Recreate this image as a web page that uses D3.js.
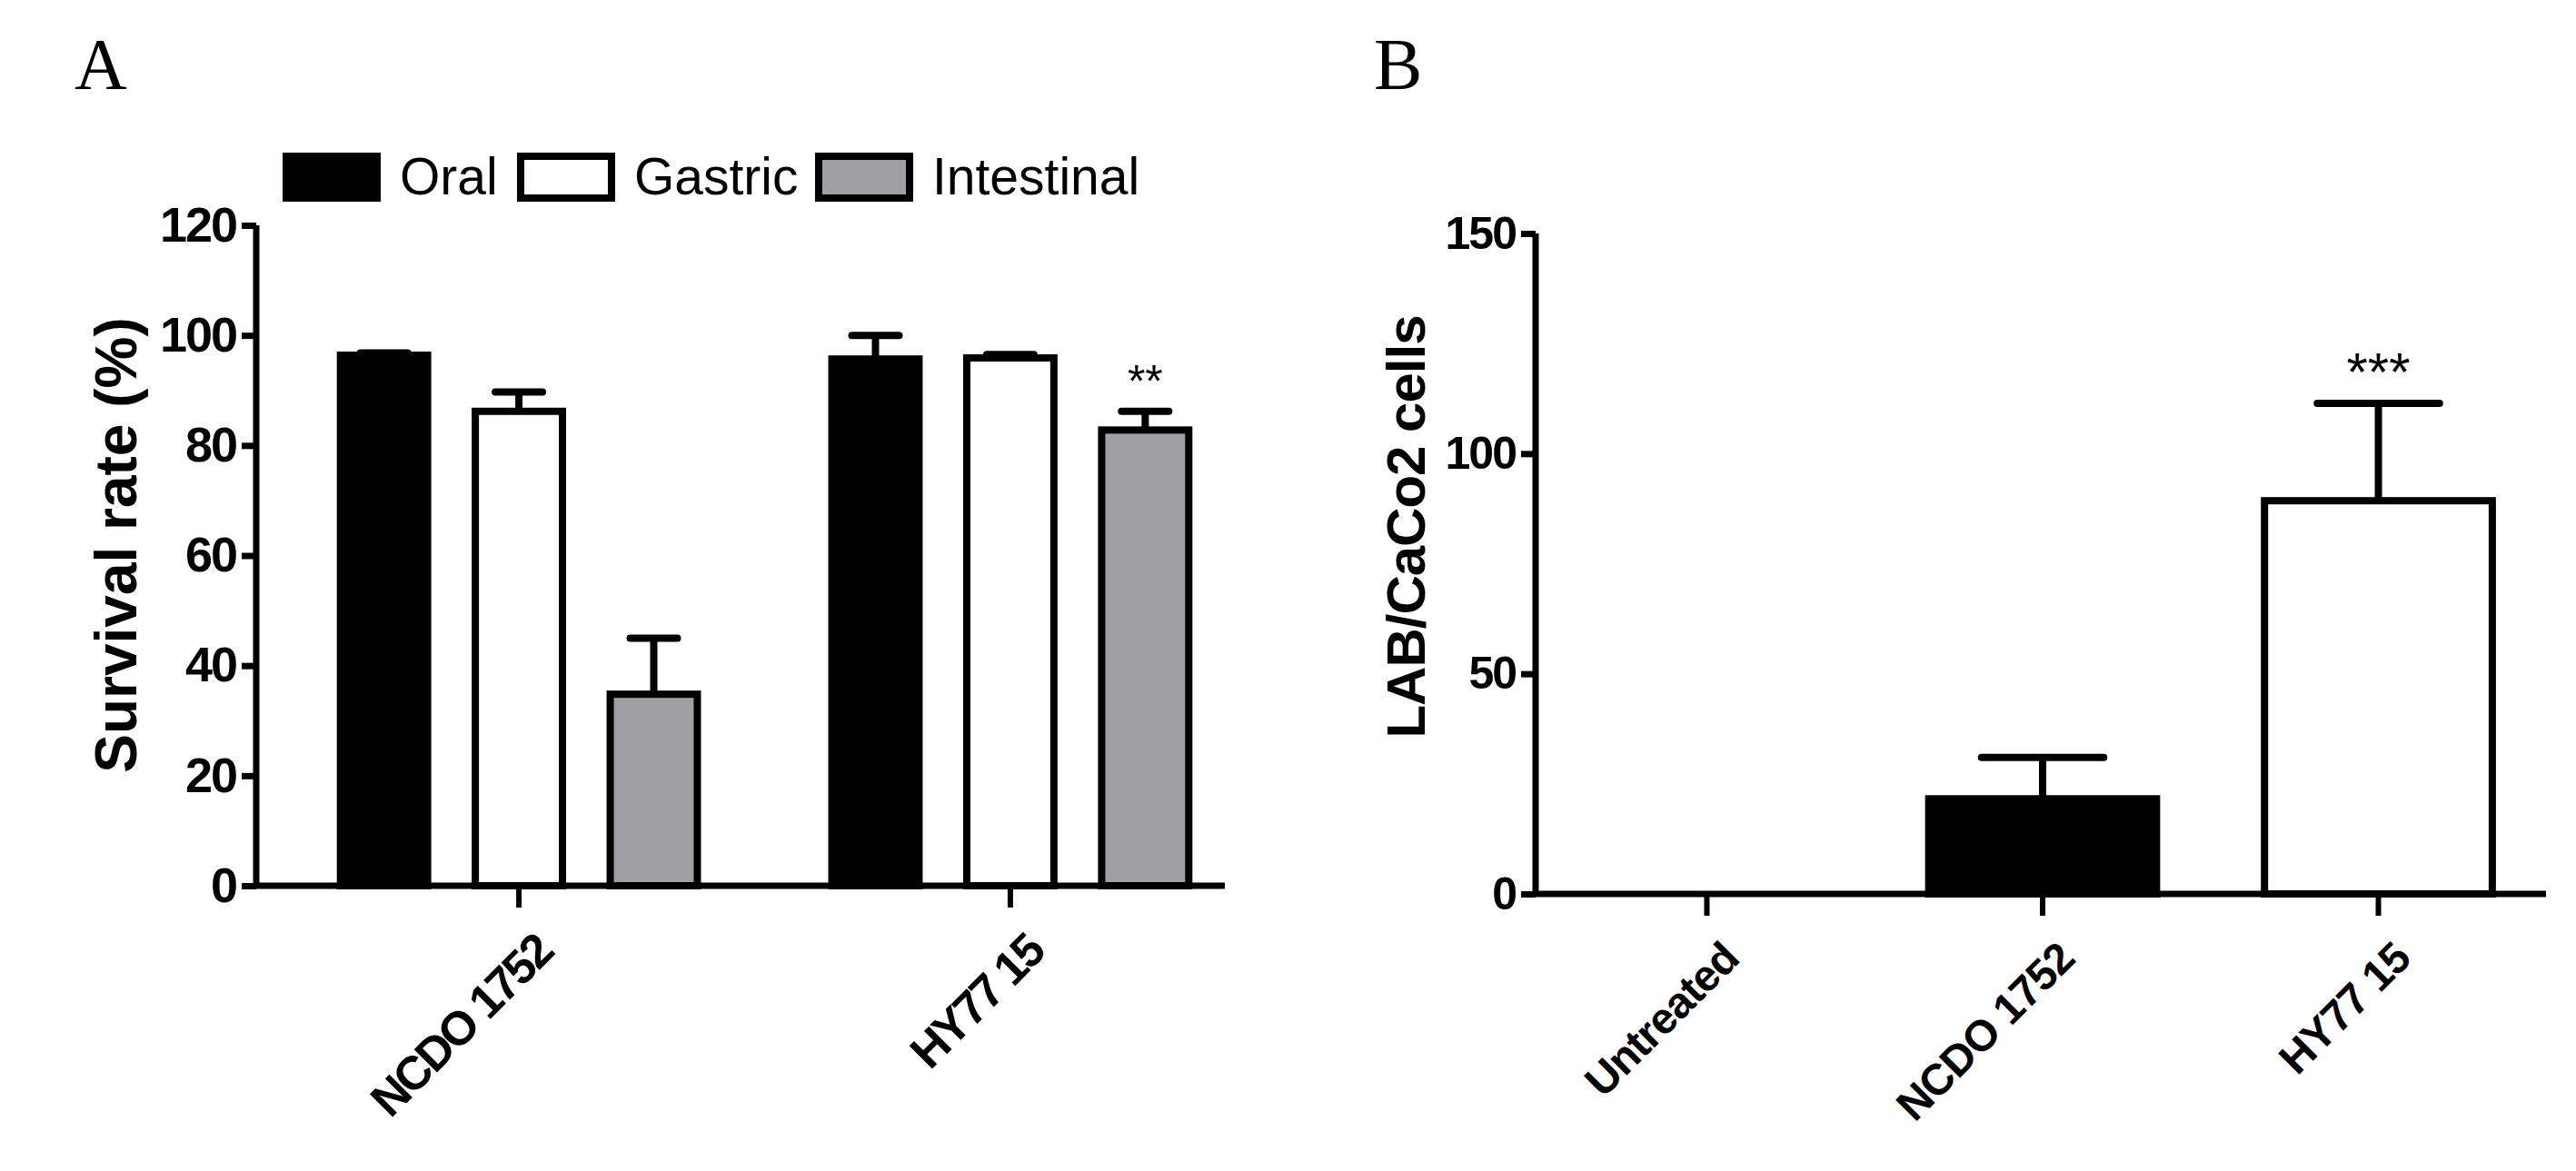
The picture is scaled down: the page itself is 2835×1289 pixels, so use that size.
<!DOCTYPE html>
<html><head><meta charset="utf-8">
<script src="https://cdn.jsdelivr.net/npm/d3@7"></script>
<style>body{margin:0;background:#fff}</style></head>
<body><svg id="c" width="2835" height="1289"></svg>
<script>
const groupsA = ["NCDO 1752", "HY77 15"];
const seriesA = ["Oral", "Gastric", "Intestinal"];
const colorsA = ["#000000", "#ffffff", "#a0a0a4"];
const valuesA = [[96.4, 86.2, 34.8], [95.7, 95.9, 82.8]];
const errorsA = [[96.8, 89.7, 45.0], [100.0, 96.5, 86.2]];
const starsA = [["", "", ""], ["", "", "**"]];
const ticksA = [0, 20, 40, 60, 80, 100, 120];

const catsB = ["Untreated", "NCDO 1752", "HY77 15"];
const valuesB = [0, 21.6, 89.3];
const errorsB = [0, 31.0, 111.4];
const colorsB = ["#000000", "#000000", "#ffffff"];
const starsB = ["", "", "***"];
const ticksB = [0, 50, 100, 150];

const svg = d3.select("#c");
const F = "Liberation Sans, Arial, sans-serif";
const SW = 8;

svg.append("text").attr("x", 82).attr("y", 98).attr("font-family", "Liberation Serif, Times New Roman, serif").attr("font-size", 80).text("A");
svg.append("text").attr("x", 1512).attr("y", 98).attr("font-family", "Liberation Serif, Times New Roman, serif").attr("font-size", 80).text("B");

function axes(g, x0, x1, y, ticks, fs) {
  g.append("g").attr("transform", `translate(${x0},0)`)
    .call(d3.axisLeft(y).tickValues(ticks).tickSize(16).tickPadding(6))
    .call(a => { a.select(".domain").attr("stroke-width", 7).attr("d", `M0,${y(ticks[ticks.length-1])}V${y(0)}`);
      a.selectAll(".tick line").attr("stroke-width", 7);
      a.selectAll("text").attr("font-family", F).attr("font-weight", "bold").attr("font-size", fs).attr("letter-spacing", -2).attr("fill", "#000"); });
  g.append("line").attr("x1", x0 - 3).attr("x2", x1).attr("y1", y(0)).attr("y2", y(0)).attr("stroke", "#000").attr("stroke-width", 7);
}

// ===== Panel A =====
const yA = d3.scaleLinear().domain([0, 120]).range([975, 248]);
const xA = d3.scaleBand().domain(groupsA).range([282, 1401]).paddingInner(0.259).paddingOuter(0.164);
const gA = svg.append("g");
const xs = d3.scaleBand().domain(seriesA).range([0, xA.bandwidth()]).paddingInner(0.3);
groupsA.forEach((g, gi) => {
  seriesA.forEach((s, si) => {
    const bx = xA(g) + xs(s), bw = xs.bandwidth(), cx = bx + bw / 2;
    gA.append("line").attr("x1", cx).attr("x2", cx).attr("y1", yA(valuesA[gi][si])).attr("y2", yA(errorsA[gi][si])).attr("stroke", "#000").attr("stroke-width", SW);
    gA.append("line").attr("x1", cx - bw * 0.25).attr("x2", cx + bw * 0.25).attr("y1", yA(errorsA[gi][si])).attr("y2", yA(errorsA[gi][si])).attr("stroke", "#000").attr("stroke-width", SW).attr("stroke-linecap", "round");
    gA.append("rect").attr("x", bx + SW/2).attr("y", yA(valuesA[gi][si])).attr("width", bw - SW).attr("height", yA(0) - yA(valuesA[gi][si]))
      .attr("fill", colorsA[si]).attr("stroke", "#000").attr("stroke-width", SW);
    if (starsA[gi][si]) gA.append("text").attr("x", cx).attr("y", yA(errorsA[gi][si]) - 16).attr("text-anchor", "middle")
      .attr("font-family", F).attr("font-size", 50).text(starsA[gi][si]);
  });
});
axes(gA, 282, 1348, yA, ticksA, 54);
groupsA.forEach(g => {
  const cx = xA(g) + xA.bandwidth() / 2;
  gA.append("line").attr("x1", cx).attr("x2", cx).attr("y1", yA(0)).attr("y2", yA(0) + 24).attr("stroke", "#000").attr("stroke-width", 6);
  gA.append("text").attr("transform", `translate(${cx + 14},${yA(0) + 50}) rotate(-45)`).attr("text-anchor", "end").attr("dy", "0.7em")
    .attr("font-family", F).attr("font-weight", "bold").attr("font-size", 52).attr("letter-spacing", -3).text(g);
});
gA.append("text").attr("transform", "translate(150,600) rotate(-90)").attr("text-anchor", "middle")
  .attr("font-family", F).attr("font-weight", "bold").attr("font-size", 64).text("Survival rate (%)");
const legX = [315, 573, 901];
seriesA.forEach((s, i) => {
  gA.append("rect").attr("x", legX[i]).attr("y", 172).attr("width", 100).attr("height", 46).attr("fill", colorsA[i]).attr("stroke", "#000").attr("stroke-width", SW);
  gA.append("text").attr("x", legX[i] + 125).attr("y", 214).attr("font-family", F).attr("font-size", 57).text(s);
});

// ===== Panel B =====
const yB = d3.scaleLinear().domain([0, 150]).range([984, 257]);
const xB = d3.scaleBand().domain(catsB).range([1690, 2806]).paddingInner(0.30).paddingOuter(0.16);
const gB = svg.append("g");
catsB.forEach((c, i) => {
  const bx = xB(c), bw = xB.bandwidth(), cx = bx + bw / 2;
  if (valuesB[i] > 0) {
    gB.append("line").attr("x1", cx).attr("x2", cx).attr("y1", yB(valuesB[i])).attr("y2", yB(errorsB[i])).attr("stroke", "#000").attr("stroke-width", SW);
    gB.append("line").attr("x1", cx - bw * 0.26).attr("x2", cx + bw * 0.26).attr("y1", yB(errorsB[i])).attr("y2", yB(errorsB[i])).attr("stroke", "#000").attr("stroke-width", SW).attr("stroke-linecap", "round");
    gB.append("rect").attr("x", bx + SW/2).attr("y", yB(valuesB[i])).attr("width", bw - SW).attr("height", yB(0) - yB(valuesB[i]))
      .attr("fill", colorsB[i]).attr("stroke", "#000").attr("stroke-width", SW);
  }
  if (starsB[i]) gB.append("text").attr("x", cx).attr("y", yB(errorsB[i]) - 14).attr("text-anchor", "middle")
    .attr("font-family", F).attr("font-size", 60).text(starsB[i]);
});
axes(gB, 1690, 2802, yB, ticksB, 50);
catsB.forEach(c => {
  const cx = xB(c) + xB.bandwidth() / 2;
  gB.append("line").attr("x1", cx).attr("x2", cx).attr("y1", yB(0)).attr("y2", yB(0) + 24).attr("stroke", "#000").attr("stroke-width", 6);
  gB.append("text").attr("transform", `translate(${cx + 14},${yB(0) + 50}) rotate(-45)`).attr("text-anchor", "end").attr("dy", "0.7em")
    .attr("font-family", F).attr("font-weight", "bold").attr("font-size", 48).attr("letter-spacing", -1).text(c);
});
gB.append("text").attr("transform", "translate(1568,580) rotate(-90)").attr("text-anchor", "middle")
  .attr("font-family", F).attr("font-weight", "bold").attr("font-size", 60).attr("letter-spacing", -1).text("LAB/CaCo2 cells");
</script></body></html>
